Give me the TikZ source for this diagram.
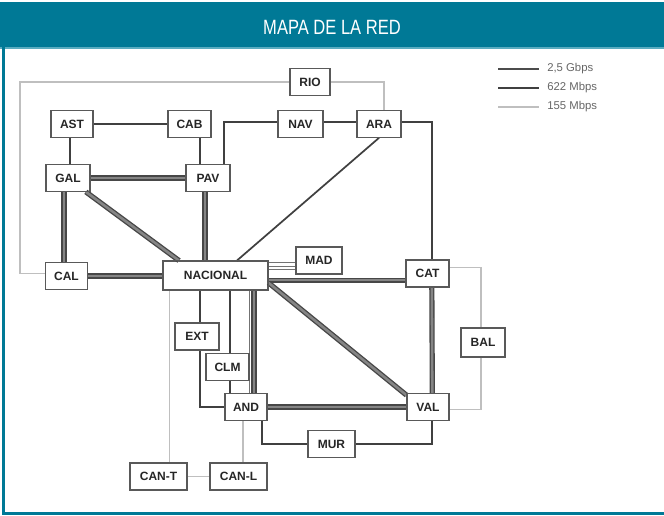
\documentclass[tikz,border=0pt]{standalone}
\usepackage{fontspec}
\setmainfont{Liberation Sans}
\usetikzlibrary{calc}
\definecolor{teal1}{RGB}{0,121,150}
\definecolor{teal2}{RGB}{90,172,192}
\begin{document}
\begin{tikzpicture}[x=0.75pt,y=-0.75pt,
  box/.style={draw=black!65, line width=0.8pt, fill=white, minimum height=20pt, inner sep=0pt,
    font=\bfseries\fontsize{9}{10}\selectfont, text=black!85},
  thk/.style={draw=black!72, line width=1pt, double=black!48, double distance=1.9pt},
  med/.style={draw=black!75, line width=1.3pt},
  lt/.style={draw=black!25, line width=1pt},
  fine/.style={draw=black!55, line width=0.6pt},
  legtxt/.style={anchor=west, inner sep=0pt, text=black!60, font=\fontsize{8.5}{10}\selectfont}
]
\useasboundingbox (0,0) rectangle (664,515);
% frame
\fill[teal1] (0,2) rectangle (664,48);
\fill[teal2] (0,47) rectangle (664,49);
\fill[teal1] (2,47) rectangle (5,515);
\fill[teal1] (2,512) rectangle (664,515);
\node[text=white, inner sep=0pt] (title) at (332,27.5) {\scalebox{0.8}[1]{\fontsize{15.5}{18}\selectfont MAPA DE LA RED}};

% nodes
\node[box, minimum width=30pt] (RIO) at (310,82) {RIO};
\node[box, minimum width=31.5pt] (AST) at (72,124) {AST};
\node[box, minimum width=32.25pt] (CAB) at (189.5,124) {CAB};
\node[box, minimum width=33pt] (NAV) at (300.5,124) {NAV};
\node[box, minimum width=33pt] (ARA) at (379,124) {ARA};
\node[box, minimum width=33pt] (GAL) at (68,178) {GAL};
\node[box, minimum width=33pt] (PAV) at (208,178) {PAV};
\node[box, minimum width=31pt] (CAL) at (66.5,276) {CAL};
\node[box, minimum width=78.75pt, minimum height=21.5pt] (NAC) at (215.5,275.5) {NACIONAL};
\node[box, minimum width=34.5pt] (MAD) at (319,260.5) {MAD};
\node[box, minimum width=32.25pt] (CAT) at (427.5,273.5) {CAT};
\node[box, minimum width=33pt] (EXT) at (197,336.5) {EXT};
\node[box, minimum width=32.25pt] (CLM) at (227.5,367) {CLM};
\node[box, minimum width=31.5pt] (AND) at (246,407) {AND};
\node[box, minimum width=31.5pt] (VAL) at (428,407) {VAL};
\node[box, minimum width=35.25pt] (MUR) at (331.5,444) {MUR};
\node[box, minimum width=42.75pt] (cant) at (158.5,476.5) {CAN-T};
\node[box, minimum width=42.75pt] (canl) at (238.5,476.5) {CAN-L};
\node[box, minimum width=33pt, minimum height=21.75pt] (BAL) at (483,342.5) {BAL};
\coordinate (lc) at (20,200);

% light (155 Mbps) links
\draw[lt] (RIO.west) -| (lc) |- ([yshift=2pt]CAL.west);
\draw[lt] (RIO.east) -| ([xshift=3.75pt]ARA.north);
\draw[lt] ([yshift=4.5pt]CAT.east) -| ([xshift=-1.5pt]BAL.north);
\draw[lt] ([xshift=-1.5pt]BAL.south) |- ([yshift=-2pt]VAL.east);
\draw[lt] ([xshift=8pt]cant.north |- NAC.south) -- ([xshift=8pt]cant.north);
\draw[lt] (cant.east) -- (canl.west);
\draw[lt] ([xshift=-2.25pt]AND.south) -- ([xshift=-2.25pt]AND.south |- canl.north);

% medium links
\draw[med] (AST.east) -- (CAB.west);
\draw[med] ([xshift=-1.5pt]AST.south) -- ([xshift=-1.5pt]AST.south |- GAL.north);
\draw[med] ([xshift=8pt]CAB.south) -- ([xshift=8pt]CAB.south |- PAV.north);
\draw[med] ([xshift=12pt]PAV.north) |- ([yshift=1.5pt]NAV.west);
\draw[med] ([yshift=1.5pt]NAV.east) -- ([yshift=1.5pt]ARA.west);
\draw[med] ([yshift=1.5pt]ARA.east) -| ([xshift=3.25pt]CAT.north);
\draw[med] (ARA.south) -- ([xshift=16pt]NAC.north);
\draw[med] ([xshift=2.25pt]EXT.north |- NAC.south) -- ([xshift=2.25pt]EXT.north);
\draw[med] ([xshift=2.25pt]EXT.south) |- (AND.west);
\draw[med] ([xshift=2pt]CLM.north |- NAC.south) -- ([xshift=2pt]CLM.north);
\draw[med] ([xshift=2pt]CLM.south) -- ([xshift=2pt]CLM.south |- AND.north);
\draw[med] ([xshift=12pt]AND.south) |- (MUR.west);
\draw[med] ([xshift=3.25pt]VAL.south) |- (MUR.east);
\draw[fine] ([xshift=2.25pt]AND.north |- NAC.south) -- ([xshift=2.25pt]AND.north);

% NACIONAL - MAD triple link
\draw[fine] ([yshift=-1.5pt]MAD.west) -- ([yshift=-1.5pt]MAD.west -| NAC.east);
\draw[fine] ([yshift=-4.1pt]MAD.west) -- ([yshift=-4.1pt]MAD.west -| NAC.east);
\draw[fine] ([yshift=-6.7pt]MAD.west) -- ([yshift=-6.7pt]MAD.west -| NAC.east);

% thick links
\draw[thk] (GAL.east) -- (PAV.west);
\draw[thk] ([xshift=-3pt]GAL.south) -- ([xshift=-3pt]GAL.south |- CAL.north);
\draw[thk] ([xshift=-3.5pt]GAL.south east) -- ([xshift=12.5pt]NAC.north west);
\draw[thk] ([xshift=-2.25pt]PAV.south) -- ([xshift=-2.25pt]PAV.south |- NAC.north);
\draw[thk] (CAL.east) -- (CAL.east -| NAC.west);
\draw[thk] ([yshift=-3.5pt]NAC.east) -- ([yshift=-3.5pt]NAC.east -| CAT.west);
\draw[thk] ([yshift=-5.5pt]NAC.east) -- ([yshift=-1.5pt]VAL.north west);
\draw[thk] ([xshift=6pt]AND.north |- NAC.south) -- ([xshift=6pt]AND.north);
\draw[thk] ([xshift=3.25pt]CAT.south) -- ([xshift=3.25pt]VAL.north);
\draw[thk] (AND.east) -- (VAL.west);

% redraw box outlines on top
\foreach \n in {RIO,AST,CAB,NAV,ARA,GAL,PAV,CAL,NAC,MAD,CAT,EXT,CLM,AND,VAL,MUR,cant,canl,BAL}
  \draw[draw=black!65, line width=0.8pt] (\n.north west) rectangle (\n.south east);

% legend
\coordinate (l1a) at (498,69);  \coordinate (l1b) at (539,69);
\coordinate (l2a) at (498,88);  \coordinate (l2b) at (539,88);
\coordinate (l3a) at (498,107); \coordinate (l3b) at (539,107);
\draw[draw=black!70, line width=1.2pt] (l1a) -- (l1b);
\draw[draw=black!75, line width=2.2pt] (l2a) -- (l2b);
\draw[draw=black!25, line width=1pt] (l3a) -- (l3b);
\node[legtxt] (t1) at (547,69) {2,5 Gbps};
\node[legtxt] (t2) at (547,88) {622 Mbps};
\node[legtxt] (t3) at (547,107) {155 Mbps};
\end{tikzpicture}
\end{document}
